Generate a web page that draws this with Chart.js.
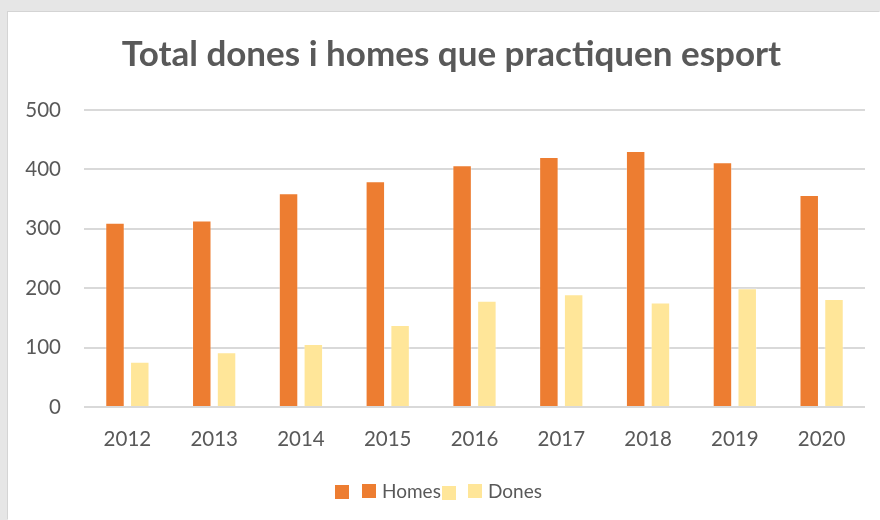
<!DOCTYPE html>
<html>
<head>
<meta charset="utf-8">
<script src="https://cdn.jsdelivr.net/npm/chart.js@4"></script>
<style>
  html, body { margin: 0; padding: 0; background: #e6e6e6; width: 880px; height: 520px; overflow: hidden; }
  #wrap { position: absolute; left: 8px; top: 12px; width: 872px; height: 508px; background: #ffffff; box-shadow: -1px -1px 0 #d4d4d4; }
  canvas { display: block; }
</style>
</head>
<body>
<div id="wrap"><canvas id="c" width="872" height="508"></canvas></div>
<script>
const categories = ["2012", "2013", "2014", "2015", "2016", "2017", "2018", "2019", "2020"];
const homesValues = [310, 314, 360, 380, 407, 421, 431, 412, 357];
const donesValues = [76, 92, 106, 138, 179, 190, 176, 200, 182];
const seriesLabels = ["Homes", "Dones"];
const seriesColors = ["#ED7D31", "#FFE699"];
const yTicks = [0, 100, 200, 300, 400, 500];
const titleText = "Total dones i homes que practiquen esport";

const FONT = "Lato, 'Open Sans', sans-serif";
const GREY = "#595959";

// shift title centre to match the reference
const titleShift = {
  id: "titleShift",
  afterLayout(chart) {
    if (chart.titleBlock) chart.titleBlock.left += 30;
  }
};

// legend drawn as in the reference (each key shows a doubled swatch)
const customLegend = {
  id: "customLegend",
  afterDraw(chart) {
    const ctx = chart.ctx;
    const items = [
      { decoyX: 327, decoyY: 473, boxX: 354, boxY: 472, textX: 374 },
      { decoyX: 434, decoyY: 474, boxX: 460, boxY: 472, textX: 480 }
    ];
    ctx.save();
    ctx.font = "19px " + FONT;
    ctx.textBaseline = "middle";
    ctx.textAlign = "left";
    chart.data.datasets.forEach((ds, i) => {
      const it = items[i];
      ctx.fillStyle = ds.backgroundColor;
      ctx.fillRect(it.decoyX, it.decoyY, 14, 14);
      ctx.fillRect(it.boxX, it.boxY, 14, 14);
      ctx.fillStyle = GREY;
      ctx.fillText(ds.label, it.textX, it.boxY + 7.5);
    });
    ctx.restore();
  }
};

new Chart(document.getElementById("c"), {
  type: "bar",
  data: {
    labels: categories,
    datasets: [
      { label: seriesLabels[0], data: homesValues, backgroundColor: seriesColors[0], borderColor: "rgba(255,255,255,0.35)", borderWidth: 1 },
      { label: seriesLabels[1], data: donesValues, backgroundColor: seriesColors[1], borderColor: "rgba(255,255,255,0.35)", borderWidth: 1 }
    ]
  },
  options: {
    responsive: false,
    animation: false,
    layout: { padding: { left: 0, right: 15, top: 14, bottom: 48.4 } },
    datasets: { bar: { categoryPercentage: 0.571, barPercentage: 0.786 } },
    plugins: {
      title: {
        display: true,
        text: titleText,
        color: GREY,
        font: { family: FONT, size: 35, weight: "bold" },
        padding: { top: 7.5, bottom: 34.5 }
      },
      legend: { display: false },
      tooltip: { enabled: false }
    },
    scales: {
      x: {
        grid: { display: false, drawTicks: false },
        border: { display: false },
        ticks: { color: GREY, font: { family: FONT, size: 20.5 }, padding: 20 }
      },
      y: {
        min: 0,
        max: 500,
        afterBuildTicks(scale) { scale.ticks = yTicks.map(v => ({ value: v })); },
        afterFit(scale) { scale.width = 76; },
        grid: { color: "#d9d9d9", lineWidth: 2, drawTicks: false },
        border: { display: false },
        ticks: { color: GREY, font: { family: FONT, size: 20.5 }, padding: 23 }
      }
    }
  },
  plugins: [titleShift, customLegend]
});
</script>
</body>
</html>
